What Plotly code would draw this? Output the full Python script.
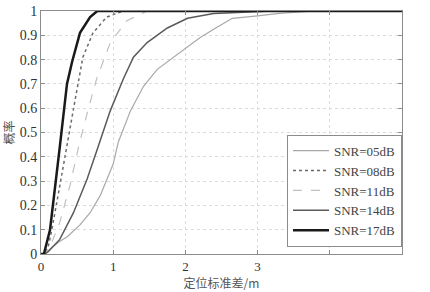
import plotly.graph_objects as go

names = ["SNR=05dB", "SNR=08dB", "SNR=11dB", "SNR=14dB", "SNR=17dB"]

x05 = [0, 0.06, 0.125, 0.25, 0.36, 0.54, 0.68, 0.82, 1.0, 1.07, 1.24, 1.42, 1.61, 1.93, 2.2, 2.42, 2.65, 3.0, 3.3, 3.8, 5]
y05 = [0, 0, 0.02, 0.05, 0.07, 0.12, 0.17, 0.24, 0.37, 0.46, 0.59, 0.69, 0.76, 0.83, 0.89, 0.93, 0.97, 0.98, 0.99, 1.0, 1.0]

x08 = [0, 0.05, 0.1, 0.15, 0.26, 0.36, 0.47, 0.58, 0.72, 0.91, 1.14, 5]
y08 = [0, 0, 0.03, 0.10, 0.28, 0.44, 0.63, 0.81, 0.91, 0.975, 1.0, 1.0]

x11 = [0, 0.05, 0.125, 0.26, 0.40, 0.52, 0.64, 0.77, 0.96, 1.19, 1.47, 5]
y11 = [0, 0, 0.03, 0.13, 0.28, 0.44, 0.58, 0.72, 0.87, 0.96, 1.0, 1.0]

x14 = [0, 0.05, 0.1, 0.26, 0.45, 0.64, 0.79, 0.96, 1.14, 1.28, 1.47, 1.75, 2.03, 2.39, 2.8, 3.2, 5]
y14 = [0, 0, 0.01, 0.06, 0.17, 0.31, 0.44, 0.59, 0.72, 0.81, 0.87, 0.93, 0.97, 0.99, 0.995, 1.0, 1.0]

x17 = [0, 0.04, 0.125, 0.22, 0.26, 0.36, 0.43, 0.54, 0.68, 0.78, 5]
y17 = [0, 0, 0.10, 0.33, 0.44, 0.70, 0.79, 0.91, 0.975, 1.0, 1.0]

xticks = [0, 1, 2, 3, 4, 5]
xticklabels = ["0", "1", "2", "3", "", ""]
yticks = [0, 0.1, 0.2, 0.3, 0.4, 0.5, 0.6, 0.7, 0.8, 0.9, 1]
yticklabels = ["0", "0.1", "0.2", "0.3", "0.4", "0.5", "0.6", "0.7", "0.8", "0.9", "1"]

series = [
    (x05, y05, dict(color="#a8a8a8", width=1.2, dash="solid")),
    (x08, y08, dict(color="#6a6a6a", width=1.5, dash="dot")),
    (x11, y11, dict(color="#c0c0c0", width=1.2, dash="dash")),
    (x14, y14, dict(color="#5a5a5a", width=1.5, dash="solid")),
    (x17, y17, dict(color="#1a1a1a", width=2.5, dash="solid")),
]

fig = go.Figure()
for (xs, ys, ln), nm in zip(series, names):
    fig.add_trace(go.Scatter(x=xs, y=ys, mode="lines", name=nm, line=ln))

serif = "Liberation Serif, Times New Roman, serif"
axis_common = dict(
    showline=True, linecolor="#8c8c8c", linewidth=1, mirror="allticks",
    ticks="inside", ticklen=4, tickcolor="#8c8c8c",
    showgrid=True, gridcolor="#dcdcdc", griddash="dot", gridwidth=1,
    zeroline=False, automargin=False,
)

fig.update_layout(
    width=430, height=292,
    margin=dict(l=41, r=28, t=11, b=38),
    paper_bgcolor="white", plot_bgcolor="white",
    xaxis=dict(range=[0, 5], tickvals=xticks, ticktext=xticklabels,
               tickfont=dict(family=serif, size=13, color="#333"),
               title=dict(text="定位标准差/m", font=dict(family="Noto Sans CJK SC", size=12, color="#555"), standoff=0),
               **axis_common),
    yaxis=dict(range=[0, 1], tickvals=yticks, ticktext=yticklabels,
               tickfont=dict(family=serif, size=14, color="#333"),
               title=dict(text="概率", font=dict(family="Noto Sans CJK SC", size=12, color="#555"), standoff=2),
               **axis_common),
    legend=dict(x=1, xanchor="right", y=0.03, yanchor="bottom",
                bgcolor="white", bordercolor="#8c8c8c", borderwidth=1,
                font=dict(family=serif, size=13, color="#444"),
                itemwidth=36, tracegroupgap=0),
    showlegend=True,
)

fig.write_html("out.html")
